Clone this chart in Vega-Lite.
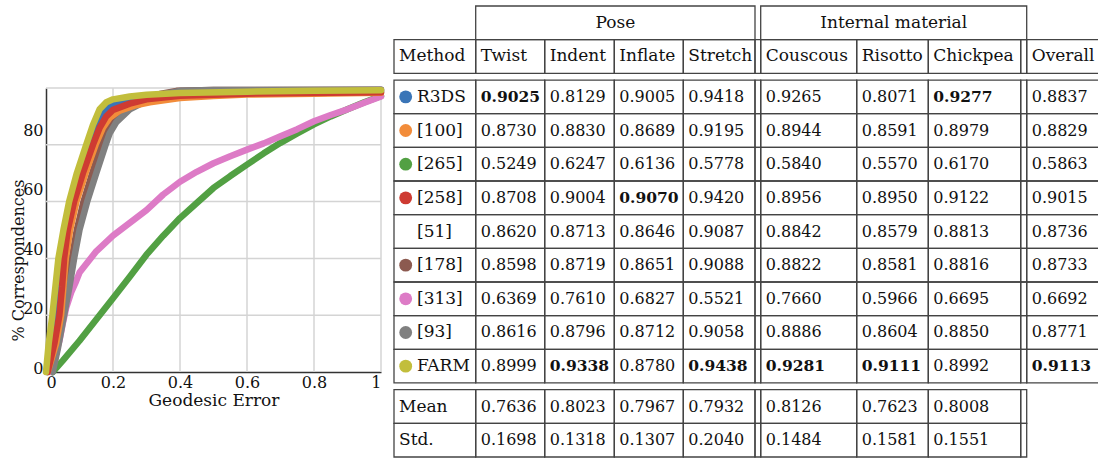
{
  "$schema": "https://vega.github.io/schema/vega-lite/v6.json",
  "width": 1098,
  "height": 458,
  "padding": 0,
  "autosize": "none",
  "background": "white",
  "config": {
    "view": {"stroke": null},
    "font": "DejaVu Serif",
    "axis": {
      "labelFont": "DejaVu Serif",
      "titleFont": "DejaVu Serif",
      "labelColor": "#111111",
      "titleColor": "#111111",
      "titleFontWeight": "normal",
      "domainColor": "#333333",
      "domainWidth": 1.5,
      "grid": false,
      "ticks": false
    }
  },
  "datasets": {
    "curves": [
      {"m":"R3DS","x":0.003,"y":0},{"m":"R3DS","x":0.015,"y":10},{"m":"R3DS","x":0.03,"y":20},{"m":"R3DS","x":0.04,"y":30},{"m":"R3DS","x":0.046,"y":40},{"m":"R3DS","x":0.058,"y":50},{"m":"R3DS","x":0.077,"y":60},{"m":"R3DS","x":0.1,"y":70},{"m":"R3DS","x":0.13,"y":80},{"m":"R3DS","x":0.15,"y":86.5},{"m":"R3DS","x":0.17,"y":91},{"m":"R3DS","x":0.19,"y":93.5},{"m":"R3DS","x":0.22,"y":95},{"m":"R3DS","x":0.3,"y":96.8},{"m":"R3DS","x":0.4,"y":97.7},{"m":"R3DS","x":0.6,"y":98.3},{"m":"R3DS","x":1,"y":98.8},
      {"m":"[178]","x":0.018,"y":0},{"m":"[178]","x":0.033,"y":8},{"m":"[178]","x":0.05,"y":20},{"m":"[178]","x":0.064,"y":30},{"m":"[178]","x":0.077,"y":40},{"m":"[178]","x":0.092,"y":50},{"m":"[178]","x":0.112,"y":60},{"m":"[178]","x":0.138,"y":70},{"m":"[178]","x":0.165,"y":80},{"m":"[178]","x":0.18,"y":84.5},{"m":"[178]","x":0.2,"y":88.5},{"m":"[178]","x":0.24,"y":92.5},{"m":"[178]","x":0.29,"y":95.7},{"m":"[178]","x":0.34,"y":97.9},{"m":"[178]","x":0.39,"y":99},{"m":"[178]","x":0.5,"y":99.3},{"m":"[178]","x":1,"y":99.4},
      {"m":"[265]","x":0.02,"y":0},{"m":"[265]","x":0.05,"y":4},{"m":"[265]","x":0.1,"y":11},{"m":"[265]","x":0.15,"y":18.5},{"m":"[265]","x":0.2,"y":26},{"m":"[265]","x":0.25,"y":33.5},{"m":"[265]","x":0.3,"y":41.3},{"m":"[265]","x":0.35,"y":48},{"m":"[265]","x":0.4,"y":54.2},{"m":"[265]","x":0.45,"y":59.5},{"m":"[265]","x":0.5,"y":64.8},{"m":"[265]","x":0.55,"y":69},{"m":"[265]","x":0.6,"y":73},{"m":"[265]","x":0.65,"y":77},{"m":"[265]","x":0.7,"y":80.7},{"m":"[265]","x":0.75,"y":84},{"m":"[265]","x":0.8,"y":87.2},{"m":"[265]","x":0.85,"y":90},{"m":"[265]","x":0.9,"y":92.5},{"m":"[265]","x":0.95,"y":95},{"m":"[265]","x":1,"y":97.2},
      {"m":"[313]","x":0.012,"y":0},{"m":"[313]","x":0.025,"y":5},{"m":"[313]","x":0.04,"y":11},{"m":"[313]","x":0.05,"y":17},{"m":"[313]","x":0.06,"y":22.5},{"m":"[313]","x":0.075,"y":28},{"m":"[313]","x":0.09,"y":32},{"m":"[313]","x":0.1,"y":35},{"m":"[313]","x":0.15,"y":42.5},{"m":"[313]","x":0.2,"y":48},{"m":"[313]","x":0.25,"y":52.5},{"m":"[313]","x":0.3,"y":57},{"m":"[313]","x":0.35,"y":62.5},{"m":"[313]","x":0.4,"y":67},{"m":"[313]","x":0.45,"y":70.5},{"m":"[313]","x":0.5,"y":73.5},{"m":"[313]","x":0.55,"y":76},{"m":"[313]","x":0.6,"y":78.3},{"m":"[313]","x":0.65,"y":80.5},{"m":"[313]","x":0.7,"y":83},{"m":"[313]","x":0.75,"y":85.5},{"m":"[313]","x":0.8,"y":88.3},{"m":"[313]","x":0.85,"y":90.5},{"m":"[313]","x":0.9,"y":92.5},{"m":"[313]","x":0.95,"y":94.8},{"m":"[313]","x":1,"y":97},
      {"m":"[93]","x":0.02,"y":0},{"m":"[93]","x":0.035,"y":8},{"m":"[93]","x":0.054,"y":20},{"m":"[93]","x":0.07,"y":30},{"m":"[93]","x":0.084,"y":40},{"m":"[93]","x":0.1,"y":50},{"m":"[93]","x":0.123,"y":60},{"m":"[93]","x":0.15,"y":70},{"m":"[93]","x":0.178,"y":80},{"m":"[93]","x":0.19,"y":84},{"m":"[93]","x":0.21,"y":88},{"m":"[93]","x":0.25,"y":92.5},{"m":"[93]","x":0.3,"y":95.5},{"m":"[93]","x":0.35,"y":97.8},{"m":"[93]","x":0.4,"y":99},{"m":"[93]","x":0.5,"y":99.3},{"m":"[93]","x":1,"y":99.4},
      {"m":"[100]","x":0.005,"y":0},{"m":"[100]","x":0.03,"y":10},{"m":"[100]","x":0.045,"y":20},{"m":"[100]","x":0.052,"y":30},{"m":"[100]","x":0.059,"y":40},{"m":"[100]","x":0.072,"y":50},{"m":"[100]","x":0.091,"y":60},{"m":"[100]","x":0.118,"y":70},{"m":"[100]","x":0.148,"y":80},{"m":"[100]","x":0.17,"y":86},{"m":"[100]","x":0.19,"y":89.5},{"m":"[100]","x":0.22,"y":92},{"m":"[100]","x":0.27,"y":94},{"m":"[100]","x":0.31,"y":95},{"m":"[100]","x":0.4,"y":96.5},{"m":"[100]","x":0.5,"y":97.2},{"m":"[100]","x":0.6,"y":97.7},{"m":"[100]","x":0.8,"y":98},{"m":"[100]","x":1,"y":98.3},
      {"m":"[258]","x":0.005,"y":0},{"m":"[258]","x":0.025,"y":10},{"m":"[258]","x":0.04,"y":20},{"m":"[258]","x":0.048,"y":30},{"m":"[258]","x":0.054,"y":40},{"m":"[258]","x":0.065,"y":50},{"m":"[258]","x":0.084,"y":60},{"m":"[258]","x":0.11,"y":70},{"m":"[258]","x":0.14,"y":80},{"m":"[258]","x":0.16,"y":86},{"m":"[258]","x":0.18,"y":90},{"m":"[258]","x":0.2,"y":92.3},{"m":"[258]","x":0.25,"y":94.5},{"m":"[258]","x":0.3,"y":96},{"m":"[258]","x":0.4,"y":97.3},{"m":"[258]","x":0.6,"y":98},{"m":"[258]","x":1,"y":98.5},
      {"m":"FARM","x":0,"y":0},{"m":"FARM","x":0.008,"y":10},{"m":"FARM","x":0.019,"y":20},{"m":"FARM","x":0.028,"y":30},{"m":"FARM","x":0.037,"y":40},{"m":"FARM","x":0.052,"y":50},{"m":"FARM","x":0.069,"y":60},{"m":"FARM","x":0.092,"y":70},{"m":"FARM","x":0.12,"y":80},{"m":"FARM","x":0.14,"y":87},{"m":"FARM","x":0.16,"y":92.5},{"m":"FARM","x":0.18,"y":95},{"m":"FARM","x":0.2,"y":96},{"m":"FARM","x":0.25,"y":97},{"m":"FARM","x":0.3,"y":97.6},{"m":"FARM","x":0.4,"y":98.2},{"m":"FARM","x":0.6,"y":98.7},{"m":"FARM","x":0.8,"y":99},{"m":"FARM","x":1,"y":99.2}
    ],
    "table": [
      {"row":0,"Pose":"Pose","Internal material":"Internal material"},
      {"row":1,"Method":"Method","Twist":"Twist","Indent":"Indent","Inflate":"Inflate","Stretch":"Stretch","Couscous":"Couscous","Risotto":"Risotto","Chickpea":"Chickpea","Overall":"Overall"},
      {"row":2,"Method":"R3DS","Twist":0.9025,"Indent":0.8129,"Inflate":0.9005,"Stretch":0.9418,"Couscous":0.9265,"Risotto":0.8071,"Chickpea":0.9277,"Overall":0.8837},
      {"row":3,"Method":"[100]","Twist":0.8730,"Indent":0.8830,"Inflate":0.8689,"Stretch":0.9195,"Couscous":0.8944,"Risotto":0.8591,"Chickpea":0.8979,"Overall":0.8829},
      {"row":4,"Method":"[265]","Twist":0.5249,"Indent":0.6247,"Inflate":0.6136,"Stretch":0.5778,"Couscous":0.5840,"Risotto":0.5570,"Chickpea":0.6170,"Overall":0.5863},
      {"row":5,"Method":"[258]","Twist":0.8708,"Indent":0.9004,"Inflate":0.9070,"Stretch":0.9420,"Couscous":0.8956,"Risotto":0.8950,"Chickpea":0.9122,"Overall":0.9015},
      {"row":6,"Method":"[51]","Twist":0.8620,"Indent":0.8713,"Inflate":0.8646,"Stretch":0.9087,"Couscous":0.8842,"Risotto":0.8579,"Chickpea":0.8813,"Overall":0.8736},
      {"row":7,"Method":"[178]","Twist":0.8598,"Indent":0.8719,"Inflate":0.8651,"Stretch":0.9088,"Couscous":0.8822,"Risotto":0.8581,"Chickpea":0.8816,"Overall":0.8733},
      {"row":8,"Method":"[313]","Twist":0.6369,"Indent":0.7610,"Inflate":0.6827,"Stretch":0.5521,"Couscous":0.7660,"Risotto":0.5966,"Chickpea":0.6695,"Overall":0.6692},
      {"row":9,"Method":"[93]","Twist":0.8616,"Indent":0.8796,"Inflate":0.8712,"Stretch":0.9058,"Couscous":0.8886,"Risotto":0.8604,"Chickpea":0.8850,"Overall":0.8771},
      {"row":10,"Method":"FARM","Twist":0.8999,"Indent":0.9338,"Inflate":0.8780,"Stretch":0.9438,"Couscous":0.9281,"Risotto":0.9111,"Chickpea":0.8992,"Overall":0.9113},
      {"row":11,"Method":"Mean","Twist":0.7636,"Indent":0.8023,"Inflate":0.7967,"Stretch":0.7932,"Couscous":0.8126,"Risotto":0.7623,"Chickpea":0.8008},
      {"row":12,"Method":"Std.","Twist":0.1698,"Indent":0.1318,"Inflate":0.1307,"Stretch":0.2040,"Couscous":0.1484,"Risotto":0.1581,"Chickpea":0.1551}
    ],
    "cols": [
      {"c":"Method","x0":0,"x1":81.7},
      {"c":"Twist","x0":81.7,"x1":150.7},
      {"c":"Indent","x0":150.7,"x1":220.3},
      {"c":"Inflate","x0":220.3,"x1":289.3},
      {"c":"Stretch","x0":289.3,"x1":361},
      {"c":"g1","x0":361,"x1":366.7},
      {"c":"Couscous","x0":366.7,"x1":462.7},
      {"c":"Risotto","x0":462.7,"x1":534.3},
      {"c":"Chickpea","x0":534.3,"x1":626.7},
      {"c":"g2","x0":626.7,"x1":632.7},
      {"c":"Overall","x0":632.7,"x1":712},
      {"c":"Pose","x0":81.7,"x1":361},
      {"c":"Internal material","x0":366.7,"x1":632.7}
    ]
  },
  "layer": [
    {
      "data": {"values": [{"x":0.2},{"x":0.4},{"x":0.6},{"x":0.8},{"x":1}]},
      "mark": {"type": "rule", "color": "#d4d4d4", "strokeWidth": 1.5},
      "encoding": {
        "x": {"field": "x", "type": "quantitative", "scale": {"domain": [0,1], "range": [46,381], "nice": false, "zero": false}, "axis": null},
        "y": {"datum": 0, "type": "quantitative", "scale": {"domain": [0,100], "range": [372,88], "nice": false, "zero": false}, "axis": null},
        "y2": {"datum": 100}
      }
    },
    {
      "data": {"values": [{"y":20},{"y":40},{"y":60},{"y":80},{"y":100}]},
      "mark": {"type": "rule", "color": "#d4d4d4", "strokeWidth": 1.5},
      "encoding": {
        "y": {"field": "y", "type": "quantitative", "scale": {"domain": [0,100], "range": [372,88], "nice": false, "zero": false}, "axis": null},
        "x": {"datum": 0, "type": "quantitative", "scale": {"domain": [0,1], "range": [46,381], "nice": false, "zero": false}, "axis": null},
        "x2": {"datum": 1}
      }
    },
    {
      "data": {"name": "curves"},
      "mark": {"type": "line", "strokeWidth": 6.5, "strokeCap": "round", "strokeJoin": "round"},
      "encoding": {
        "x": {
          "field": "x", "type": "quantitative",
          "scale": {"domain": [0,1], "range": [46,381], "nice": false, "zero": false},
          "axis": {"orient": "bottom", "offset": -86, "values": [0,0.2,0.4,0.6,0.8,1], "format": "~g", "labelFontSize": 16, "labelPadding": 2, "title": "Geodesic Error", "titleFontSize": 17, "titlePadding": 2}
        },
        "y": {
          "field": "y", "type": "quantitative",
          "scale": {"domain": [0,100], "range": [372,88], "nice": false, "zero": false},
          "axis": {"orient": "left", "offset": -46, "labels": false, "title": null}
        },
        "color": {
          "field": "m", "type": "nominal",
          "scale": {"domain": ["R3DS","[100]","[265]","[258]","[178]","[313]","[93]","FARM"], "range": ["#3a75b7","#f28c3a","#52a043","#ce3b32","#8c5a50","#dd7bc6","#808080","#c2be3c"]},
          "legend": null
        }
      }
    },
    {
      "data": {"values": [{"v":0},{"v":20},{"v":40},{"v":60},{"v":80}]},
      "mark": {"type": "rule", "opacity": 0},
      "encoding": {
        "y": {
          "field": "v", "type": "quantitative",
          "scale": {"domain": [0,100], "range": [368,70.5], "nice": false, "zero": false},
          "axis": {"orient": "left", "offset": -46, "values": [0,20,40,60,80], "domain": false, "labelFontSize": 16, "labelPadding": 3, "title": "% Correspondences", "titleFontSize": 16, "titleX": -28, "titleY": 260, "titleBaseline": "middle"}
        }
      }
    },
    {
      "data": {"name": "table"},
      "transform": [
        {"fold": ["Method","Twist","Indent","Inflate","Stretch","Couscous","Risotto","Chickpea","Overall","Pose","Internal material"], "as": ["key","val"]},
        {"filter": "isValid(datum.val)"},
        {"lookup": "key", "from": {"data": {"name": "cols"}, "key": "c", "fields": ["x0","x1"]}},
        {"calculate": "datum.row <= 1 ? datum.row : (datum.row <= 10 ? datum.row + 0.2 : datum.row + 0.4)", "as": "y0"},
        {"calculate": "datum.y0 + 1", "as": "y1"},
        {"calculate": "datum.y0 + 0.5", "as": "yc"},
        {"calculate": "(datum.x0 + datum.x1) / 2", "as": "xm"},
        {"calculate": "isNumber(datum.val) ? datum.val : null", "as": "num"},
        {"joinaggregate": [{"op": "max", "field": "num", "as": "best"}], "groupby": ["key"]},
        {"calculate": "isNumber(datum.val) ? format(datum.val, '.4f') : datum.val", "as": "label"},
        {"calculate": "isNumber(datum.val) && datum.val === datum.best && datum.row <= 10", "as": "bold"}
      ],
      "layer": [
        {
          "mark": {"type": "rect", "filled": false, "stroke": "#444444", "strokeWidth": 1.3},
          "encoding": {
            "x": {"field": "x0", "type": "quantitative", "scale": {"domain": [0,704], "range": [394,1098], "nice": false, "zero": false}, "axis": null},
            "x2": {"field": "x1"},
            "y": {"field": "y0", "type": "quantitative", "scale": {"domain": [0,13.4], "range": [6,457], "nice": false, "zero": false}, "axis": null},
            "y2": {"field": "y1"}
          }
        },
        {
          "transform": [
            {"filter": "datum.key === 'Method' && datum.row >= 1"},
            {"calculate": "['g1','g2']", "as": "g"},
            {"flatten": ["g"]},
            {"lookup": "g", "from": {"data": {"name": "cols"}, "key": "c", "fields": ["x0","x1"]}}
          ],
          "mark": {"type": "rect", "filled": false, "stroke": "#444444", "strokeWidth": 1.3},
          "encoding": {
            "x": {"field": "x0", "type": "quantitative", "scale": {"domain": [0,704], "range": [394,1098], "nice": false, "zero": false}, "axis": null},
            "x2": {"field": "x1"},
            "y": {"field": "y0", "type": "quantitative", "scale": {"domain": [0,13.4], "range": [6,457], "nice": false, "zero": false}, "axis": null},
            "y2": {"field": "y1"}
          }
        },
        {
          "transform": [{"filter": "datum.key === 'Pose' || datum.key === 'Internal material'"}],
          "mark": {"type": "text", "align": "center", "baseline": "middle", "font": "DejaVu Serif", "fontSize": 17, "color": "#111111"},
          "encoding": {
            "x": {"field": "xm", "type": "quantitative", "scale": {"domain": [0,704], "range": [394,1098], "nice": false, "zero": false}, "axis": null},
            "y": {"field": "yc", "type": "quantitative", "scale": {"domain": [0,13.4], "range": [6,457], "nice": false, "zero": false}, "axis": null},
            "text": {"field": "label"}
          }
        },
        {
          "transform": [{"filter": "datum.key === 'Method' && datum.row >= 2 && datum.row <= 10"}],
          "mark": {"type": "text", "align": "left", "baseline": "middle", "dx": 23, "font": "DejaVu Serif", "fontSize": 17, "color": "#111111"},
          "encoding": {
            "x": {"field": "x0", "type": "quantitative", "scale": {"domain": [0,704], "range": [394,1098], "nice": false, "zero": false}, "axis": null},
            "y": {"field": "yc", "type": "quantitative", "scale": {"domain": [0,13.4], "range": [6,457], "nice": false, "zero": false}, "axis": null},
            "text": {"field": "label"}
          }
        },
        {
          "transform": [{"filter": "datum.key === 'Method' && datum.row >= 2 && datum.row <= 10 && datum.val !== '[51]'"}],
          "mark": {"type": "point", "filled": true, "size": 165, "opacity": 1, "xOffset": 11.7},
          "encoding": {
            "x": {"field": "x0", "type": "quantitative", "scale": {"domain": [0,704], "range": [394,1098], "nice": false, "zero": false}, "axis": null},
            "y": {"field": "yc", "type": "quantitative", "scale": {"domain": [0,13.4], "range": [6,457], "nice": false, "zero": false}, "axis": null},
            "color": {
              "field": "val", "type": "nominal",
              "scale": {"domain": ["R3DS","[100]","[265]","[258]","[178]","[313]","[93]","FARM"], "range": ["#3a75b7","#f28c3a","#52a043","#ce3b32","#8c5a50","#dd7bc6","#808080","#c2be3c"]},
              "legend": null
            }
          }
        },
        {
          "transform": [{"filter": "!isNumber(datum.val) && datum.key !== 'Pose' && datum.key !== 'Internal material' && !(datum.key === 'Method' && datum.row >= 2 && datum.row <= 10)"}],
          "mark": {"type": "text", "align": "left", "baseline": "middle", "dx": 5, "font": "DejaVu Serif", "fontSize": 17, "color": "#111111"},
          "encoding": {
            "x": {"field": "x0", "type": "quantitative", "scale": {"domain": [0,704], "range": [394,1098], "nice": false, "zero": false}, "axis": null},
            "y": {"field": "yc", "type": "quantitative", "scale": {"domain": [0,13.4], "range": [6,457], "nice": false, "zero": false}, "axis": null},
            "text": {"field": "label"}
          }
        },
        {
          "transform": [{"filter": "isNumber(datum.val) && !datum.bold"}],
          "mark": {"type": "text", "align": "left", "baseline": "middle", "dx": 5, "font": "DejaVu Serif", "fontSize": 16, "color": "#111111"},
          "encoding": {
            "x": {"field": "x0", "type": "quantitative", "scale": {"domain": [0,704], "range": [394,1098], "nice": false, "zero": false}, "axis": null},
            "y": {"field": "yc", "type": "quantitative", "scale": {"domain": [0,13.4], "range": [6,457], "nice": false, "zero": false}, "axis": null},
            "text": {"field": "label"}
          }
        },
        {
          "transform": [{"filter": "datum.bold"}],
          "mark": {"type": "text", "align": "left", "baseline": "middle", "dx": 5, "font": "DejaVu Serif", "fontSize": 15.5, "fontWeight": "bold", "color": "#111111"},
          "encoding": {
            "x": {"field": "x0", "type": "quantitative", "scale": {"domain": [0,704], "range": [394,1098], "nice": false, "zero": false}, "axis": null},
            "y": {"field": "yc", "type": "quantitative", "scale": {"domain": [0,13.4], "range": [6,457], "nice": false, "zero": false}, "axis": null},
            "text": {"field": "label"}
          }
        }
      ]
    }
  ],
  "resolve": {"scale": {"x": "independent", "y": "independent"}, "axis": {"x": "independent", "y": "independent"}}
}
